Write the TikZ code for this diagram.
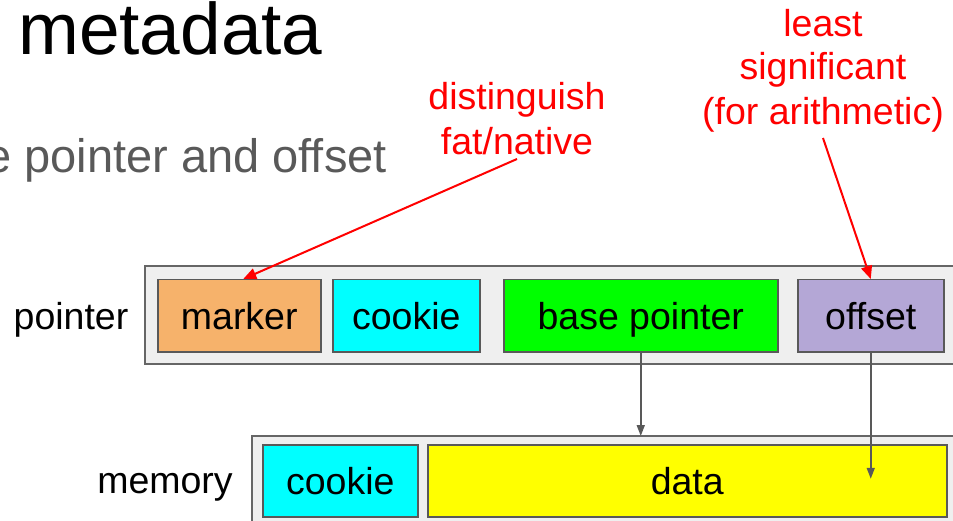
\documentclass[tikz,border=0pt]{standalone}
\usepackage{fontspec}
\setmainfont{Liberation Sans}
\usetikzlibrary{arrows.meta,calc}

\definecolor{edgegray}{HTML}{595959}
\definecolor{panelfill}{HTML}{EFEFEF}
\definecolor{panelline}{HTML}{666666}
\definecolor{markerfill}{HTML}{F6B26B}
\definecolor{cookiefill}{HTML}{00FFFF}
\definecolor{basefill}{HTML}{00FF00}
\definecolor{offsetfill}{HTML}{B4A7D6}
\definecolor{datafill}{HTML}{FFFF00}
\definecolor{notered}{HTML}{FF0000}

\tikzset{
  bodyfont/.style={font=\fontsize{37.5}{44}\selectfont},
  panel/.style={draw=panelline, fill=panelfill, line width=1.5pt},
  cell/.style={draw=edgegray, line width=1.5pt, anchor=north west,
    minimum height=72pt, inner sep=0pt, text height=28pt, text depth=0pt,
    bodyfont},
  rowlabel/.style={anchor=base, inner sep=0pt, bodyfont},
  note/.style={anchor=base, inner sep=0pt, text=notered, bodyfont},
  notearrow/.style={draw=notered, line width=2pt, -{Triangle[length=13pt,width=11pt]}},
  linkarrow/.style={draw=edgegray, line width=1.6pt, -{Triangle[length=11pt,width=8pt]}}
}

\begin{document}
\begin{tikzpicture}[x=1pt,y=-1pt]
\useasboundingbox (0,0) rectangle (953,521);
\clip (0,0) rectangle (953,521);

% heading and subheading
\node[anchor=base west, inner sep=0pt, font=\fontsize{73}{80}\selectfont] (title) at (18,55) {metadata};
\node[anchor=base west, inner sep=0pt, text=edgegray, font=\fontsize{47}{52}\selectfont] (subtitle) at (-15,173) {e pointer and offset};

% pointer layout
\draw[panel] (145,266) rectangle (975,364);
\coordinate (ptrpanel) at (145,266);
\node[rowlabel] (ptrlabel) at (71,329) {pointer};
\node[cell, fill=markerfill, minimum width=163pt] (marker) at (157,279) {marker};
\node[cell, fill=cookiefill, minimum width=147pt] (pcookie) at (332,279) {cookie};
\node[cell, fill=basefill, minimum width=274pt] (base) at (503,279) {base pointer};
\node[cell, fill=offsetfill, minimum width=146pt] (offset) at (797,279) {offset};

% memory layout
\draw[panel] (252,436) rectangle (975,540);
\coordinate (memtop) at (252,436);
\node[rowlabel] (memlabel) at (165,493) {memory};
\node[cell, fill=cookiefill, minimum width=155pt] (mcookie) at (262,444) {cookie};
\node[cell, fill=datafill, minimum width=519pt] (data) at (427,444) {data};

% annotations
\node[note] (noteA1) at (517,110) {distinguish};
\node[note] (noteA2) at (517,155) {fat/native};
\node[note] (noteB1) at (823,37) {least};
\node[note] (noteB2) at (823,80) {significant};
\node[note] (noteB3) at (823,125) {(for arithmetic)};

\draw[notearrow] ($(noteA2.base)+(0,4)$) -- ($(marker.north)+(4,0)$);
\draw[notearrow] ($(noteB3.base)+(0,13)$) -- (offset.north);

% links into memory
\draw[linkarrow] (base.south) -- (base.south |- memtop);
\draw[linkarrow] (offset.south) -- ($(offset.south |- data.center)-(0,2)$);
\end{tikzpicture}
\end{document}
